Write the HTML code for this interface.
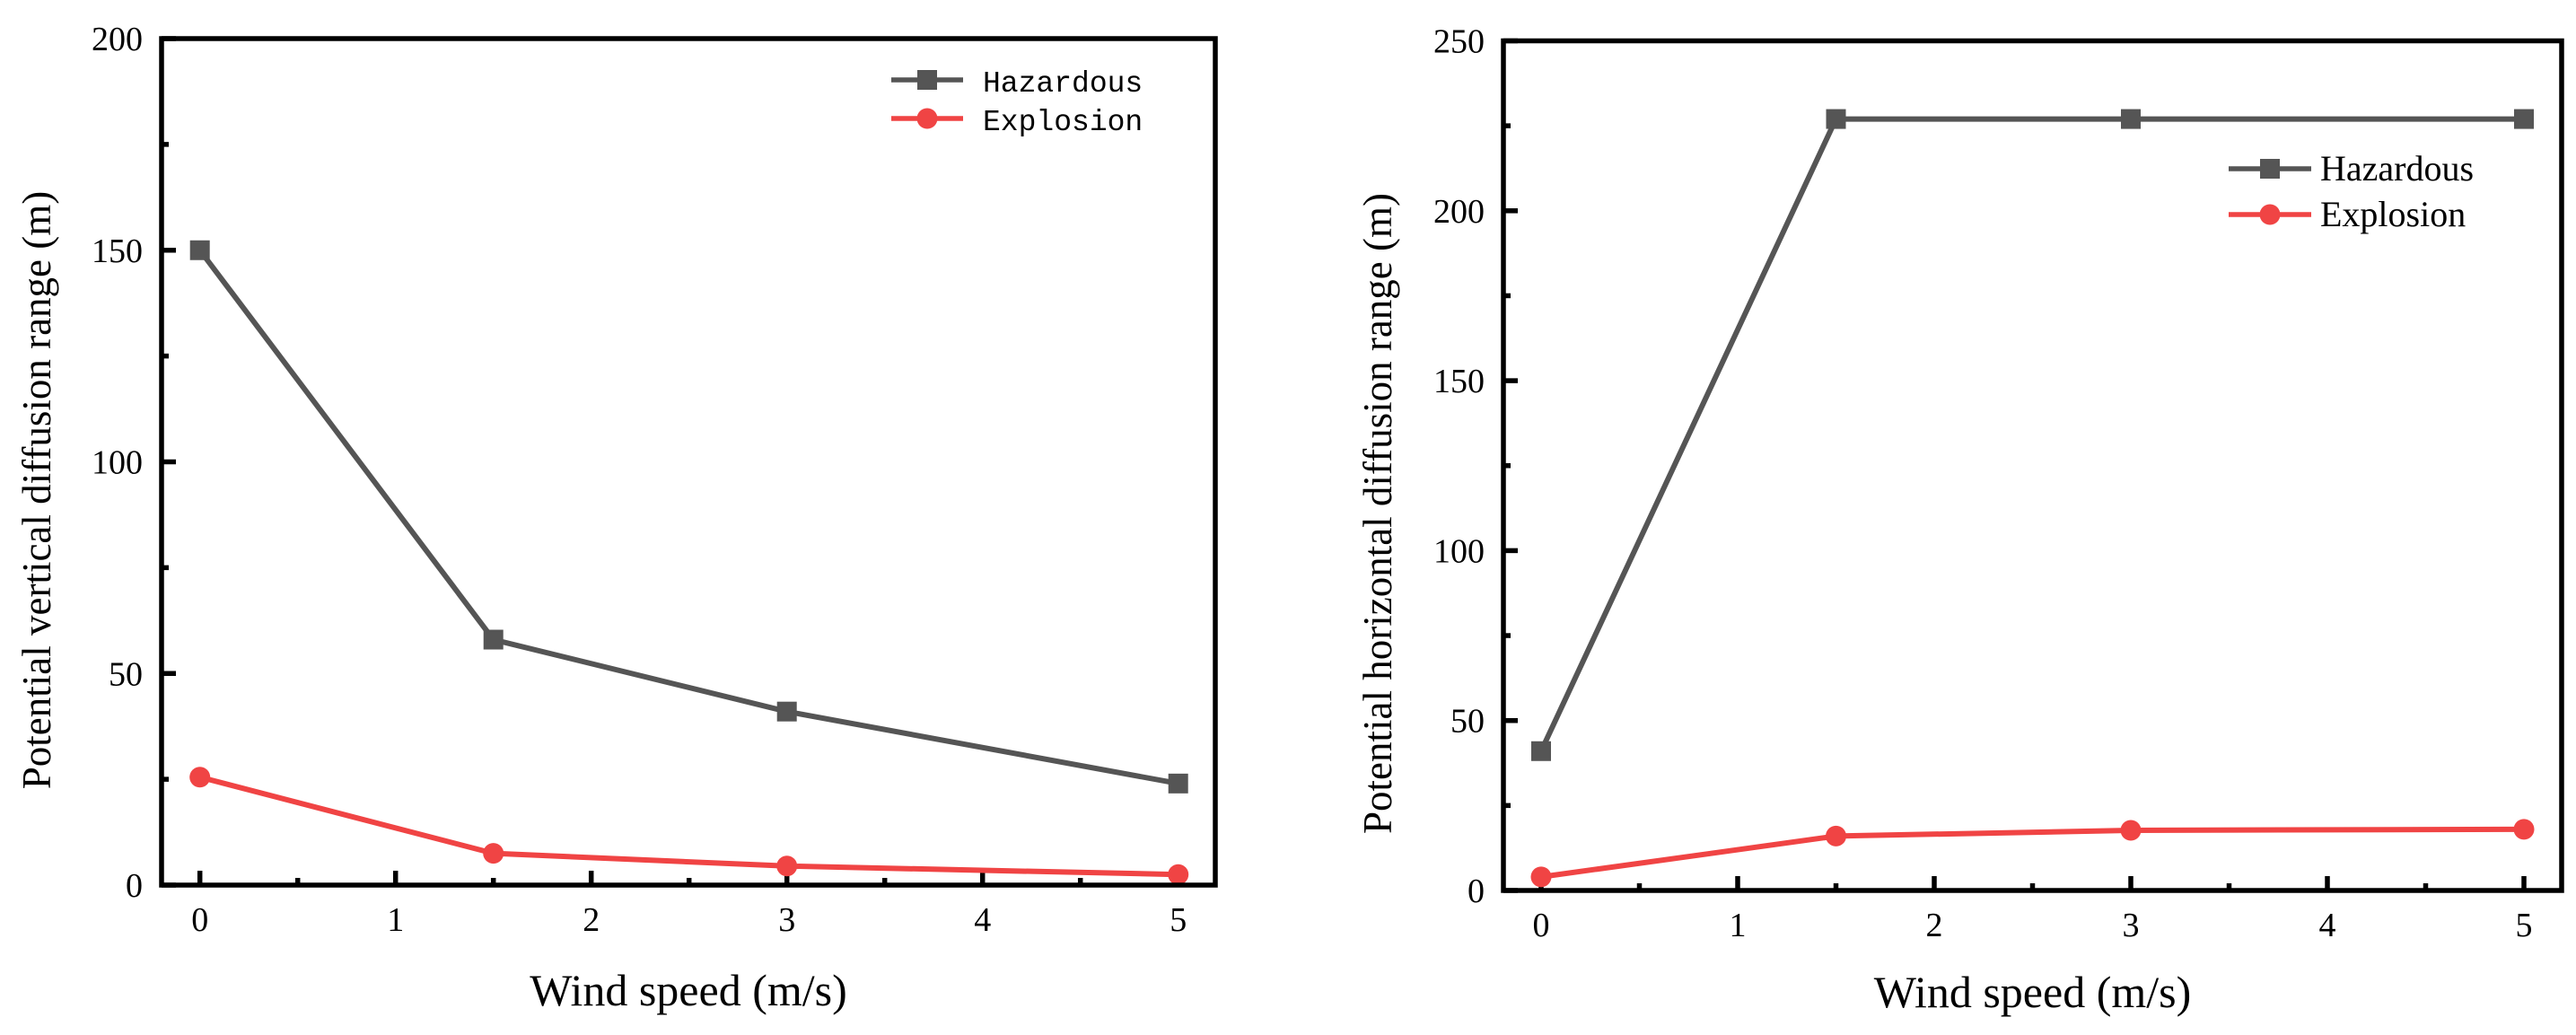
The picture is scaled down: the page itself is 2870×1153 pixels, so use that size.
<!DOCTYPE html>
<html><head><meta charset="utf-8"><style>
html,body{margin:0;padding:0;background:#fff;width:2870px;height:1153px;overflow:hidden}
svg{display:block}
text{font-family:"Liberation Serif",serif;fill:#000}
</style></head><body>
<svg id="chart" width="2870" height="1153" viewBox="0 0 2870 1153">
<g id="left"></g>
<g id="right"></g>
</svg>
<script>
const windSpeeds = [0, 1.5, 3, 5];
const leftHazardous = [150, 58, 41, 24];
const leftExplosion = [25.5, 7.5, 4.5, 2.5];
const rightHazardous = [41, 227, 227, 227];
const rightExplosion = [4, 16, 17.7, 18];
const xTickLabels = ["0", "1", "2", "3", "4", "5"];
const leftYTickLabels = ["0", "50", "100", "150", "200"];
const rightYTickLabels = ["0", "50", "100", "150", "200", "250"];
const seriesNames = ["Hazardous", "Explosion"];

const NS = "http://www.w3.org/2000/svg";
const GRAY = "#555555", RED = "#f04444";
function mk(tag, attrs, parent) {
  const e = document.createElementNS(NS, tag);
  for (const k in attrs) e.setAttribute(k, attrs[k]);
  parent.appendChild(e);
  return e;
}
function drawChart(g, cfg) {
  const xs = v => cfg.x0 + (v - 0) * cfg.xu;
  const ys = v => cfg.yb - v * (cfg.yb - cfg.yt) / cfg.ymax;
  for (let i = 0; i <= 10; i++) {
    const v = i * 0.5, major = i % 2 === 0;
    const t = mk("line", {x1: xs(v), x2: xs(v), y1: cfg.yb, y2: cfg.yb - (major ? 16 : 8), stroke: "#000", "stroke-width": 5.5}, g);
    
    
  }
  for (let i = 0; i <= cfg.ymax / 25; i++) {
    const v = i * 25, major = i % 2 === 0;
    const t = mk("line", {x1: cfg.xl, x2: cfg.xl + (major ? 16 : 8), y1: ys(v), y2: ys(v), stroke: "#000", "stroke-width": 5.5}, g);
    
    
  }
  xTickLabels.forEach(l => {
    const t = mk("text", {x: xs(+l), y: cfg.yb + 51, "text-anchor": "middle", "font-size": 38}, g);
    t.textContent = l;
    
    
  });
  cfg.yLabels.forEach(l => {
    const t = mk("text", {x: cfg.xl - 21, y: ys(+l) + 13, "text-anchor": "end", "font-size": 38}, g);
    t.textContent = l;
    
    
  });
  [[cfg.haz, GRAY, "square"], [cfg.exp, RED, "circle"]].forEach(([vals, col, shape], si) => {
    const pts = vals.map((v, i) => xs(windSpeeds[i]) + "," + ys(v)).join(" ");
    const pl = mk("polyline", {points: pts, fill: "none", stroke: col, "stroke-width": 6, "stroke-linejoin": "round"}, g);
    
    
    vals.forEach((v, i) => {
      let m;
      if (shape === "square") m = mk("rect", {x: xs(windSpeeds[i]) - 11, y: ys(v) - 11, width: 22, height: 22, fill: col}, g);
      else m = mk("circle", {cx: xs(windSpeeds[i]), cy: ys(v), r: 11.5, fill: col}, g);
      
      
    });
  });
  const f = mk("rect", {x: cfg.xl, y: cfg.yt, width: cfg.xr - cfg.xl, height: cfg.yb - cfg.yt, fill: "none", stroke: "#000", "stroke-width": 5.5}, g);
  
  
  const xt = mk("text", {x: (cfg.xl + cfg.xr) / 2, y: cfg.xTitleY, "text-anchor": "middle", "font-size": 50}, g);
  xt.textContent = "Wind speed (m/s)";
  
  
  const yt = mk("text", {x: 0, y: 0, "text-anchor": "middle", "font-size": 45, transform: `translate(${cfg.yTitleX},${cfg.yTitleY}) rotate(-90)`}, g);
  yt.textContent = cfg.yTitle;
  
  
  const L = cfg.legend;
  [[GRAY, "square", L.y1], [RED, "circle", L.y2]].forEach(([col, shape, y], si) => {
    const ln = mk("line", {x1: L.x1, x2: L.x2, y1: y, y2: y, stroke: col, "stroke-width": 5.5}, g);
    
    
    const mx = (L.x1 + L.x2) / 2;
    let m;
    if (shape === "square") m = mk("rect", {x: mx - 11, y: y - 11, width: 22, height: 22, fill: col}, g);
    else m = mk("circle", {cx: mx, cy: y, r: 11.5, fill: col}, g);
    
    
    const t = mk("text", {x: L.tx, y: y + 13, "font-size": L.fs, style: `font-family:${L.font}`}, g);
    t.textContent = seriesNames[si];
    
    
  });
}
drawChart(document.getElementById("left"), {
  xl: 180, xr: 1354, yt: 43, yb: 986, x0: 222.7, xu: 218, ymax: 200,
  haz: leftHazardous, exp: leftExplosion, yLabels: leftYTickLabels,
  xTitleY: 1120, yTitleX: 56, yTitleY: 546, yTitle: "Potential vertical diffusion range (m)",
  legend: {x1: 993, x2: 1073, y1: 89, y2: 132, tx: 1095, fs: 33, font: '"Liberation Mono", monospace'}
});
drawChart(document.getElementById("right"), {
  xl: 1675, xr: 2854, yt: 45.5, yb: 992, x0: 1717, xu: 219, ymax: 250,
  haz: rightHazardous, exp: rightExplosion, yLabels: rightYTickLabels,
  xTitleY: 1122, yTitleX: 1550, yTitleY: 572, yTitle: "Potential horizontal diffusion range (m)",
  legend: {x1: 2483, x2: 2575, y1: 188, y2: 239, tx: 2585, fs: 40, font: '"Liberation Serif", serif'}
});
</script>
</body></html>
